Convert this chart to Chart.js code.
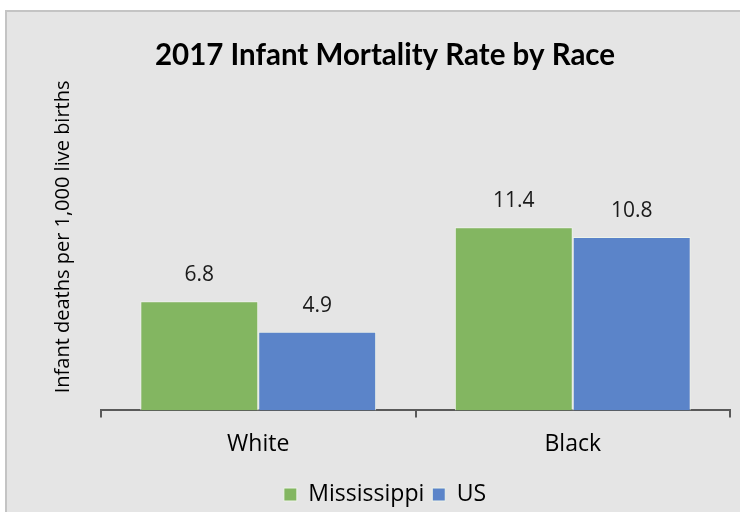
<!DOCTYPE html>
<html>
<head>
<meta charset="utf-8">
<script src="https://cdn.jsdelivr.net/npm/chart.js@4"></script>
<style>
  body { margin: 0; background: #fff; }
  #wrap { position: relative; width: 740px; height: 512px; overflow: hidden; }
  #bg { position: absolute; left: 5px; top: 10px; width: 740px; height: 510px;
        background: #e5e5e5; border-left: 2px solid #c4c4c4; border-top: 2px solid #c4c4c4; }
  #myChart { position: absolute; left: 0; top: 0; }
</style>
</head>
<body>
<div id="wrap">
  <div id="bg"></div>
  <canvas id="myChart" width="740" height="516"></canvas>
</div>
<script>
// categories along the x-axis
var races = ["White", "Black"];
// infant deaths per 1,000 live births
var mississippi = [6.8, 11.4];
var us = [4.9, 10.8];
var yMax = 21.6; // hidden axis, only sets the scale

// value labels above each bar
var barLabels = {
  id: 'barLabels',
  afterDatasetsDraw: function(chart) {
    var ctx = chart.ctx;
    ctx.save();
    ctx.font = '21px "Open Sans", sans-serif';
    ctx.fillStyle = '#1a1a1a';
    ctx.textAlign = 'center';
    ctx.textBaseline = 'middle';
    chart.data.datasets.forEach(function(ds, i) {
      chart.getDatasetMeta(i).data.forEach(function(bar, j) {
        ctx.fillText(ds.data[j].toFixed(1), bar.x, bar.y - 26);
      });
    });
    ctx.restore();
  }
};

var ctx = document.getElementById("myChart");
var myChart = new Chart(ctx, {
  type: 'bar',
  data: {
    labels: races,
    datasets: [
      { label: "Mississippi", data: mississippi, backgroundColor: "#83b661",
        borderColor: "#eef3ea", borderWidth: 1 },
      { label: "US", data: us, backgroundColor: "#5b84c9",
        borderColor: "#eef3ea", borderWidth: 1 }
    ]
  },
  options: {
    responsive: false,
    animation: false,
    categoryPercentage: 0.75,
    barPercentage: 1,
    layout: { padding: { left: 40, right: 10, top: 38, bottom: 0 } },
    plugins: {
      title: {
        display: true,
        text: "2017 Infant Mortality Rate by Race",
        color: '#000',
        font: { family: 'Lato', size: 29.5, weight: 'bold' },
        padding: { top: 0, bottom: -10 }
      },
      legend: {
        position: 'bottom',
        labels: {
          color: '#000',
          boxWidth: 13, boxHeight: 13,
          font: { family: '"Open Sans"', size: 23, lineHeight: 1 },
          padding: 8
        }
      },
      tooltip: { enabled: false }
    },
    scales: {
      x: {
        afterFit: function(scale) { scale.height += 4; },
        grid: { display: true, offset: true, drawOnChartArea: false,
                color: '#595959', lineWidth: 2, tickLength: 7 },
        border: { color: '#595959', width: 2 },
        ticks: { color: '#000', font: { family: '"Open Sans"', size: 23 }, padding: 13 }
      },
      y: {
        min: 0, max: yMax,
        grid: { display: false },
        border: { display: false },
        ticks: { display: false },
        title: {
          display: true,
          text: "Infant deaths per 1,000 live births",
          color: '#000',
          font: { family: '"Open Sans"', size: 20 },
          padding: { top: 11, bottom: 18 }
        }
      }
    }
  },
  plugins: [barLabels]
});
</script>
</body>
</html>
